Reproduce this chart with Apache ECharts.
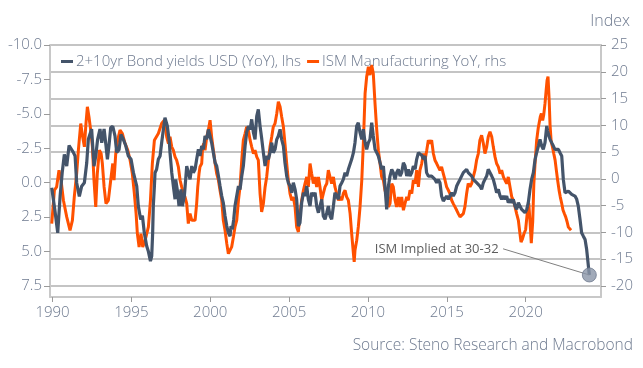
<!DOCTYPE html>
<html>
<head>
<meta charset="utf-8">
<script src="https://cdn.jsdelivr.net/npm/echarts@6/dist/echarts.min.js"></script>
<style>
html,body{margin:0;padding:0;background:#fff;}
#chart{width:643px;height:368px;}
</style>
</head>
<body>
<div id="chart"></div>
<script>
// ---- Data ----
const bondName = '2+10yr Bond yields USD (YoY), lhs';
const ismName = 'ISM Manufacturing YoY, rhs';

const bondYears = [
1989.95,1990.15,1990.33,1990.48,1990.62,1990.75,1990.9,1991.05,1991.17,1991.32,1991.43,1991.53,1991.7,1991.85,1992.02,1992.17,1992.27,1992.48,1992.63,1992.74,1992.86,1993.01,1993.12,1993.27,1993.39,1993.48,1993.58,1993.69,1993.82,1993.96,1994.07,1994.22,1994.34,1994.49,1994.64,1994.81,1994.98,1995.13,1995.23,1995.34,1995.44,1995.59,1995.7,1995.82,1995.97,1996.08,1996.21,1996.29,1996.35,1996.39,1996.46,1996.5,1996.6,1996.71,1996.82,1996.92,1997.03,1997.13,1997.2,1997.28,1997.41,1997.45,1997.56,1997.66,1997.77,1997.81,1997.94,1998.02,1998.15,1998.23,1998.36,1998.51,1998.61,1998.72,1998.83,1998.93,1999.04,1999.14,1999.25,1999.35,1999.46,1999.57,1999.67,1999.78,1999.88,1999.99,2000.09,2000.2,2000.31,2000.41,2000.52,2000.62,2000.73,2000.83,2000.94,2001.05,2001.15,2001.26,2001.32,2001.4,2001.49,2001.57,2001.68,2001.79,2001.89,2002.0,2002.1,2002.21,2002.31,2002.42,2002.53,2002.63,2002.74,2002.84,2002.95,2003.05,2003.16,2003.27,2003.37,2003.48,2003.58,2003.69,2003.79,2003.9,2004.0,2004.11,2004.22,2004.32,2004.43,2004.53,2004.64,2004.74,2004.85,2004.95,2005.06,2005.17,2005.27,2005.38,2005.48,2005.59,2005.69,2005.8,2005.91,2006.01,2006.12,2006.22,2006.33,2006.43,2006.54,2006.65,2006.75,2006.86,2006.96,2007.07,2007.17,2007.28,2007.39,2007.49,2007.6,2007.7,2007.81,2007.91,2008.02,2008.13,2008.23,2008.34,2008.44,2008.55,2008.65,2008.76,2008.87,2008.97,2009.08,2009.18,2009.29,2009.39,2009.5,2009.61,2009.71,2009.82,2009.92,2010.03,2010.13,2010.24,2010.34,2010.45,2010.56,2010.66,2010.77,2010.87,2010.98,2011.08,2011.19,2011.3,2011.4,2011.51,2011.61,2011.72,2011.82,2011.93,2012.04,2012.14,2012.25,2012.35,2012.46,2012.56,2012.67,2012.78,2012.88,2012.99,2013.09,2013.2,2013.3,2013.41,2013.51,2013.62,2013.72,2013.83,2013.93,2014.04,2014.15,2014.25,2014.36,2014.46,2014.57,2014.67,2014.78,2014.89,2014.99,2015.1,2015.2,2015.31,2015.41,2015.52,2015.63,2015.73,2015.84,2015.94,2016.05,2016.15,2016.26,2016.36,2016.47,2016.58,2016.68,2016.79,2016.89,2017.0,2017.1,2017.21,2017.32,2017.42,2017.53,2017.63,2017.74,2017.85,2017.95,2018.06,2018.16,2018.27,2018.38,2018.48,2018.59,2018.69,2018.8,2018.9,2019.01,2019.12,2019.22,2019.33,2019.43,2019.54,2019.64,2019.75,2019.86,2019.96,2020.07,2020.17,2020.28,2020.38,2020.49,2020.6,2020.7,2020.81,2020.91,2021.02,2021.12,2021.23,2021.34,2021.4,2021.48,2021.55,2021.65,2021.76,2021.86,2021.97,2022.08,2022.18,2022.29,2022.39,2022.5,2022.6,2022.71,2022.82,2022.92,2023.03,2023.13,2023.24,2023.34,2023.45,2023.55,2023.66,2023.77,2023.87,2023.98,2024.04
];
const bondValues = [
0.37,2.0,3.64,1.0,-0.8,-2.06,-1.2,-2.7,-2.8,-2.2,-1.94,0.0,1.0,0.25,0.0,-1.45,-3.15,-3.9,-1.2,-1.94,-3.15,-3.9,-2.9,-3.9,-2.7,-1.7,-2.7,-4.0,-4.1,-3.4,-2.2,-2.4,-3.5,-3.15,-2.7,-1.94,-1.7,-0.73,-0.85,0.25,1.7,2.67,2.4,3.64,4.6,5.0,5.7,5.33,3.64,1.7,0.25,-0.72,-0.97,-1.7,-1.94,-2.9,-3.87,-4.72,-4.84,-4.12,-2.9,-2.18,-0.73,0.22,1.2,-0.24,0.73,1.7,0.49,1.7,0.97,-1.21,-0.73,-0.24,-1.21,-0.73,-0.97,-1.7,-2.42,-1.94,-2.66,-2.42,-3.39,-3.15,-3.87,-3.39,-2.9,-2.18,-1.45,-1.21,-0.48,0.22,0.97,1.46,2.42,3.15,3.64,3.88,3.15,3.39,2.67,1.7,0.97,0.25,0.49,-0.48,-1.21,-2.66,-3.63,-4.11,-3.87,-4.6,-3.63,-3.15,-4.84,-5.33,-4.11,-3.15,-2.18,-1.21,-1.94,-1.7,-2.18,-2.91,-2.18,-2.42,-3.15,-3.39,-3.88,-3.15,-2.66,-1.45,-0.48,0.0,0.24,0.73,0.0,0.48,1.21,3.15,2.91,1.45,0.73,0.97,0.24,1.21,1.7,0.73,0.97,0.73,1.7,2.18,1.7,1.21,2.42,2.66,2.18,1.7,2.42,2.66,1.7,0.73,0.97,1.21,0.24,0.0,-0.24,-0.73,-0.48,-0.97,-0.97,-1.7,-2.18,-2.91,-4.12,-4.36,-3.63,-3.15,-3.88,-2.91,-2.42,-2.91,-3.15,-4.36,-3.39,-2.42,-2.18,-1.94,-1.45,-0.97,-1.21,0.24,1.94,0.24,-0.48,-0.97,-0.73,-0.24,-0.73,-0.97,-0.48,-0.73,-1.45,-1.21,-0.48,-0.97,-0.48,-0.73,-1.21,-0.97,-1.7,-2.18,-2.18,-2.0,-1.7,-1.94,-0.73,-0.48,-0.36,-0.48,-0.36,-0.24,0.0,-0.24,0.0,0.97,1.33,1.21,0.97,1.21,0.97,0.73,0.97,0.73,0.24,0.0,-0.24,-0.48,-0.73,-0.73,-0.97,-0.73,-0.61,-0.48,-0.24,-0.36,0.0,0.12,0.24,0.48,0.0,-0.24,-0.48,-0.97,-0.97,-0.48,-0.24,0.24,0.73,0.48,0.97,1.21,0.97,1.21,0.97,1.45,1.21,1.45,1.21,1.7,1.94,1.45,1.7,1.94,2.06,2.18,1.94,1.45,0.48,-0.24,-0.73,-1.7,-2.18,-2.66,-3.15,-2.66,-2.42,-2.91,-4.12,-3.75,-3.39,-3.15,-2.91,-2.66,-2.42,-2.54,-2.42,-2.18,-1.94,-0.24,0.73,0.73,0.61,0.73,0.85,0.73,0.97,1.21,1.7,2.67,3.63,3.88,4.12,4.84,6.06,6.7
];

const ismYears = [
1989.95,1990.12,1990.26,1990.41,1990.54,1990.69,1990.9,1991.11,1991.26,1991.38,1991.53,1991.64,1991.79,1991.91,1992.02,1992.12,1992.21,1992.31,1992.42,1992.53,1992.63,1992.74,1992.84,1992.97,1993.08,1993.16,1993.27,1993.39,1993.54,1993.69,1993.82,1993.9,1994.01,1994.13,1994.28,1994.43,1994.6,1994.77,1994.92,1995.06,1995.19,1995.3,1995.38,1995.49,1995.61,1995.72,1995.87,1995.97,1996.08,1996.21,1996.33,1996.46,1996.71,1996.92,1997.09,1997.24,1997.35,1997.45,1997.56,1997.66,1997.77,1997.87,1997.98,1998.09,1998.19,1998.3,1998.4,1998.51,1998.61,1998.72,1998.83,1998.93,1999.04,1999.14,1999.21,1999.29,1999.35,1999.46,1999.52,1999.59,1999.67,1999.78,1999.88,1999.99,2000.09,2000.2,2000.31,2000.41,2000.52,2000.62,2000.73,2000.83,2000.94,2001.05,2001.15,2001.26,2001.36,2001.47,2001.57,2001.68,2001.79,2001.89,2002.0,2002.1,2002.21,2002.31,2002.42,2002.53,2002.63,2002.74,2002.84,2002.95,2003.05,2003.16,2003.26,2003.37,2003.48,2003.58,2003.69,2003.79,2003.9,2004.0,2004.11,2004.22,2004.32,2004.43,2004.53,2004.64,2004.74,2004.85,2004.95,2005.06,2005.17,2005.27,2005.38,2005.48,2005.59,2005.69,2005.8,2005.91,2006.01,2006.12,2006.22,2006.33,2006.43,2006.54,2006.65,2006.75,2006.86,2006.96,2007.07,2007.17,2007.28,2007.39,2007.49,2007.6,2007.7,2007.81,2007.91,2008.02,2008.13,2008.23,2008.34,2008.44,2008.55,2008.65,2008.76,2008.87,2008.97,2009.08,2009.13,2009.18,2009.29,2009.39,2009.5,2009.61,2009.71,2009.82,2009.92,2010.03,2010.13,2010.24,2010.34,2010.45,2010.56,2010.66,2010.77,2010.87,2010.98,2011.08,2011.19,2011.3,2011.4,2011.51,2011.61,2011.72,2011.82,2011.93,2012.04,2012.14,2012.25,2012.35,2012.46,2012.56,2012.67,2012.78,2012.88,2012.99,2013.09,2013.2,2013.3,2013.41,2013.52,2013.62,2013.73,2013.83,2013.93,2014.04,2014.15,2014.25,2014.36,2014.46,2014.57,2014.67,2014.78,2014.89,2014.99,2015.1,2015.2,2015.31,2015.41,2015.52,2015.63,2015.73,2015.84,2015.94,2016.05,2016.15,2016.26,2016.36,2016.47,2016.58,2016.68,2016.79,2016.89,2017.0,2017.1,2017.21,2017.32,2017.42,2017.53,2017.63,2017.74,2017.85,2017.95,2018.06,2018.16,2018.27,2018.38,2018.48,2018.59,2018.69,2018.8,2018.9,2019.01,2019.12,2019.22,2019.33,2019.43,2019.54,2019.64,2019.71,2019.8,2019.9,2020.0,2020.1,2020.2,2020.28,2020.36,2020.45,2020.52,2020.6,2020.7,2020.8,2020.93,2021.0,2021.08,2021.15,2021.23,2021.3,2021.36,2021.42,2021.49,2021.55,2021.62,2021.7,2021.78,2021.87,2021.95,2022.03,2022.12,2022.2,2022.29,2022.37,2022.46,2022.54,2022.63,2022.71,2022.8,2022.88
];
const ismValues = [
-8.35,-2.12,-1.5,1.62,-0.25,-3.99,-7.1,-9.6,-7.73,-3.36,1.0,5.36,10.34,7.85,5.98,10.34,13.46,11.59,9.1,5.98,-0.25,-5.23,1.0,5.36,4.74,2.87,-1.5,-4.61,-3.99,-0.25,2.87,-0.25,4.74,7.23,9.1,8.47,6.6,5.36,3.49,1.0,-2.74,-6.48,-10.22,-12.71,-10.22,-12.71,-11.46,-11.46,-8.97,-3.99,2.87,7.23,8.47,10.34,10.97,7.85,6.6,7.85,5.98,5.36,4.11,3.49,2.24,-0.25,-1.5,-2.74,-3.36,-4.61,-8.35,-6.48,-7.73,-7.73,-7.73,-4.61,-1.5,1.0,2.24,2.87,5.98,6.6,5.36,7.85,9.1,10.97,7.85,5.36,2.87,1.0,-0.25,-2.12,-3.99,-7.73,-9.6,-12.09,-13.96,-14.27,-12.71,-10.84,-8.97,-7.73,-3.99,-1.5,3.49,7.23,8.47,9.72,9.1,7.23,5.98,4.74,5.36,4.11,3.5,-2.74,-6.17,-4.61,-1.5,0.37,3.49,5.98,7.85,9.72,10.34,12.21,14.39,13.46,11.59,9.72,6.6,2.87,-0.25,-2.74,-3.99,-3.36,-5.23,-8.97,-9.9,-6.48,-3.99,-2.12,-0.87,0.37,-1.5,2.87,1.0,-0.87,0.37,-1.5,0.37,-1.5,-3.99,-2.74,-1.5,-0.87,1.62,1.62,-0.87,0.37,-1.5,-2.74,-3.99,-3.36,-3.99,-2.74,-2.12,-3.36,-3.99,-6.48,-10.22,-13.96,-15.5,-13.33,-11.46,-8.97,-5.23,-0.25,6.6,15.95,19.07,20.93,19.38,21.25,19.69,14.08,9.1,5.36,2.87,0.37,-0.25,-2.12,-3.36,-5.23,-4.61,-0.87,-1.5,-3.99,-5.23,-3.36,-5.23,-3.36,-5.86,-4.61,-3.36,-3.99,-2.12,-2.74,-0.25,-0.87,1.62,-1.5,1.62,2.87,4.74,3.49,5.36,7.23,6.6,7.23,4.74,3.49,2.87,2.24,1.62,2.24,1.0,-0.25,-1.5,-2.12,-2.74,-3.99,-4.61,-5.23,-5.86,-6.48,-7.1,-7.1,-6.48,-5.23,-2.74,-0.87,-1.5,-0.87,0.37,1.62,3.49,4.74,7.23,8.16,6.6,4.74,5.98,7.85,8.79,7.85,5.98,4.11,2.87,2.24,1.0,1.62,0.37,-0.25,-0.87,0.37,-1.5,-3.36,-3.99,-5.23,-6.48,-7.73,-10.22,-11.8,-11.2,-10.2,-9.5,-6.5,-4.5,-8.0,-12.0,-8.0,-1.0,3.0,7.2,9.5,11.6,12.2,10.9,12.0,14.1,16.5,18.4,19.1,15.0,10.0,7.0,6.0,4.8,3.5,1.6,-0.25,-2.1,-3.4,-4.6,-5.8,-6.5,-7.1,-8.0,-9.0,-8.7,-9.6
];

const yearTicks = [1990,1995,2000,2005,2010,2015,2020];
const leftTicks = [-10,-7.5,-5,-2.5,0,2.5,5,7.5];
const annotationText = 'ISM Implied at 30-32';
const annotationAnchor = [2018.57, 4.8];   // start of the leader line (lhs units)
const sourceText = 'Source: Steno Research and Macrobond';
const unitText = 'Index';

// ---- Build chart ----
const bondData = bondYears.map((y, i) => [y, bondValues[i]]);
const ismData = ismYears.map((y, i) => [y, ismValues[i]]);
const lastBond = [bondYears[bondYears.length - 1], bondValues[bondValues.length - 1]];

const FONT = '"Open Sans", "Noto Sans", sans-serif';
const TXT = '#6E7A8F';
const AXIS = '#C8C8C8';
const GRIDC = '#C4C4C4';
const DARK = '#44546A';
const ORANGE = '#FF5100';
const XMIN = 1989.84, XMAX = 2024.78;

const chart = echarts.init(document.getElementById('chart'));
chart.setOption({
  animation: false,
  backgroundColor: '#ffffff',
  textStyle: {fontFamily: FONT},
  title: [
    {text: unitText, right: 8, top: 8, textStyle: {fontFamily: FONT, fontWeight: 300, fontSize: 16, color: TXT}},
    {text: sourceText, right: 5, bottom: 9, textStyle: {fontFamily: FONT, fontWeight: 300, fontSize: 15.5, color: TXT}}
  ],
  legend: {
    left: 56, top: 49, data: [bondName, ismName],
    icon: 'rect', itemWidth: 12, itemHeight: 3, itemGap: 6,
    textStyle: {fontFamily: FONT, fontWeight: 300, fontSize: 15, color: TXT, padding: [0, 0, 0, -2]}
  },
  grid: [
    {left: 50, right: 42, top: 45, bottom: 71, containLabel: false},
    {left: 50, right: 42, top: 45, bottom: 82, containLabel: false}
  ],
  xAxis: [
    {gridIndex: 0, type: 'value', min: XMIN, max: XMAX, splitLine: {show: false},
      axisLine: {show: true, onZero: false, lineStyle: {color: AXIS, width: 2}},
      axisTick: {show: true, customValues: yearTicks, length: 5, lineStyle: {color: '#9A9A9A'}},
      axisLabel: {customValues: yearTicks, formatter: v => String(v), fontFamily: FONT, fontWeight: 300, fontSize: 15, color: TXT, margin: 8}},
    {gridIndex: 1, type: 'value', min: XMIN, max: XMAX, show: false, axisLine: {onZero: false}}
  ],
  yAxis: [
    {gridIndex: 0, type: 'value', inverse: true, min: -10, max: 8.3, position: 'left', splitLine: {show: false},
      axisLine: {show: true, onZero: false, lineStyle: {color: AXIS, width: 2}},
      axisTick: {show: true, customValues: leftTicks, length: 6, lineStyle: {color: '#9A9A9A'}},
      axisLabel: {customValues: leftTicks, formatter: v => v.toFixed(1), fontFamily: FONT, fontWeight: 300, fontSize: 15, color: TXT, margin: 8}},
    {gridIndex: 1, type: 'value', min: -20, max: 25, interval: 5, position: 'right',
      splitLine: {show: true, lineStyle: {color: GRIDC, width: 2, opacity: 1}},
      axisLine: {show: true, onZero: false, lineStyle: {color: AXIS, width: 2}},
      axisTick: {show: true, length: 5, lineStyle: {color: '#9A9A9A'}},
      axisLabel: {formatter: v => String(v), fontFamily: FONT, fontWeight: 300, fontSize: 15, color: TXT, margin: 10}},
    {gridIndex: 0, type: 'value', min: 0, max: 1, position: 'right', splitLine: {show: false}, axisTick: {show: false}, axisLabel: {show: false},
      axisLine: {show: true, onZero: false, lineStyle: {color: AXIS, width: 2}}}
  ],
  series: [
    {name: ismName, type: 'line', xAxisIndex: 1, yAxisIndex: 1, data: ismData, showSymbol: false, symbol: 'none',
      lineStyle: {color: ORANGE, width: 3}, itemStyle: {color: ORANGE}, z: 3},
    {name: bondName, type: 'line', xAxisIndex: 0, yAxisIndex: 0, data: bondData, showSymbol: false, symbol: 'none',
      lineStyle: {color: DARK, width: 3.2}, itemStyle: {color: DARK}, z: 4},
    {name: 'annotation-line', type: 'line', xAxisIndex: 0, yAxisIndex: 0, data: [annotationAnchor, lastBond],
      symbol: 'none', showSymbol: false, silent: true, lineStyle: {color: '#7F7F7F', width: 1}, z: 5},
    {name: 'annotation-label', type: 'scatter', xAxisIndex: 0, yAxisIndex: 0, data: [annotationAnchor],
      symbol: 'circle', symbolSize: 1, silent: true, itemStyle: {color: 'rgba(0,0,0,0)'},
      label: {show: true, position: 'left', distance: 4, formatter: annotationText, fontFamily: FONT, fontSize: 13, color: '#333333'}, z: 5},
    {name: 'annotation-point', type: 'scatter', xAxisIndex: 0, yAxisIndex: 0, data: [lastBond], symbol: 'circle', symbolSize: 14, silent: true,
      itemStyle: {color: '#8A95A8', borderColor: '#6F7A8E', borderWidth: 1}, z: 6}
  ]
});
</script>
</body>
</html>
